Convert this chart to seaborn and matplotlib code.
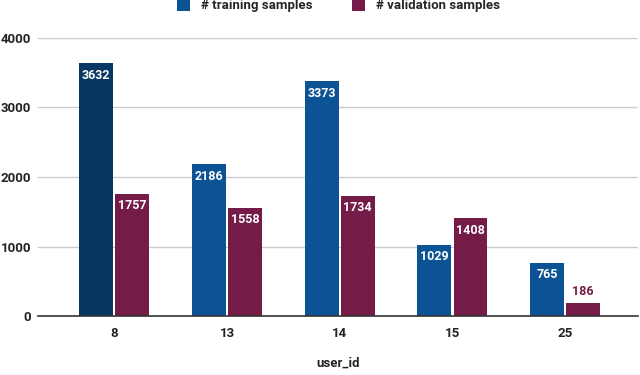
import matplotlib
matplotlib.use("Agg")
import matplotlib.pyplot as plt
import seaborn as sns
import pandas as pd

user_ids = ["8", "13", "14", "15", "25"]
training = [3632, 2186, 3373, 1029, 765]
validation = [1757, 1558, 1734, 1408, 186]
series_names = ["# training samples", "# validation samples"]

blue = "#0b5394"
dark_blue = "#073763"
maroon = "#741b47"

sns.set_style("white")
plt.rcParams["font.family"] = ["Roboto", "DejaVu Sans"]

df = pd.DataFrame({
    "user_id": user_ids * 2,
    "count": training + validation,
    "series": [series_names[0]] * len(user_ids) + [series_names[1]] * len(user_ids),
})

fig = plt.figure(figsize=(6.4, 3.75), dpi=100)
ax = fig.add_axes([0.06, 0.157, 0.937, 0.742])
sns.barplot(data=df, x="user_id", y="count", hue="series", order=user_ids,
            palette=[blue, maroon], width=0.64, gap=0.06, ax=ax,
            edgecolor="none", saturation=1)

# highlight first training bar
ax.containers[0].patches[0].set_facecolor(dark_blue)

for cont, vals, col in zip(ax.containers, [training, validation], [blue, maroon]):
    for bar, v in zip(cont.patches, vals):
        cx = bar.get_x() + bar.get_width() / 2
        if v > 400:
            ax.annotate(str(v), (cx, v), xytext=(0, -4), textcoords="offset points",
                        ha="center", va="top", color="white", fontsize=9, fontweight="bold")
        else:
            ax.annotate(str(v), (cx, v), xytext=(0, 4), textcoords="offset points",
                        ha="center", va="bottom", color=col, fontsize=9, fontweight="bold")

ax.set_ylim(0, 4000)
ax.set_xlim(-0.674, 4.647)
ax.set_yticks([0, 1000, 2000, 3000, 4000])
ax.yaxis.grid(True, color="#cccccc", linewidth=1)
ax.set_axisbelow(True)
for s in ["top", "right", "left"]:
    ax.spines[s].set_visible(False)
ax.spines["bottom"].set_color("#333333")
ax.spines["bottom"].set_linewidth(1.2)
ax.tick_params(axis="x", length=0, labelsize=9.5, pad=8)
ax.tick_params(axis="y", length=0, labelsize=9.5, pad=5)
for lbl in ax.get_xticklabels() + ax.get_yticklabels():
    lbl.set_fontweight("bold")
    lbl.set_color("#222222")
ax.set_ylabel("")
ax.set_xlabel("user_id", fontsize=9.5, fontweight="bold", color="#222222", labelpad=12)

ax.legend(loc="lower center", bbox_to_anchor=(0.5, 1.05), ncol=2, frameon=False,
          handlelength=1.0, handleheight=1.1, columnspacing=3,
          prop={"weight": "bold", "size": 9.5})

fig.savefig("out.png", dpi=100)
